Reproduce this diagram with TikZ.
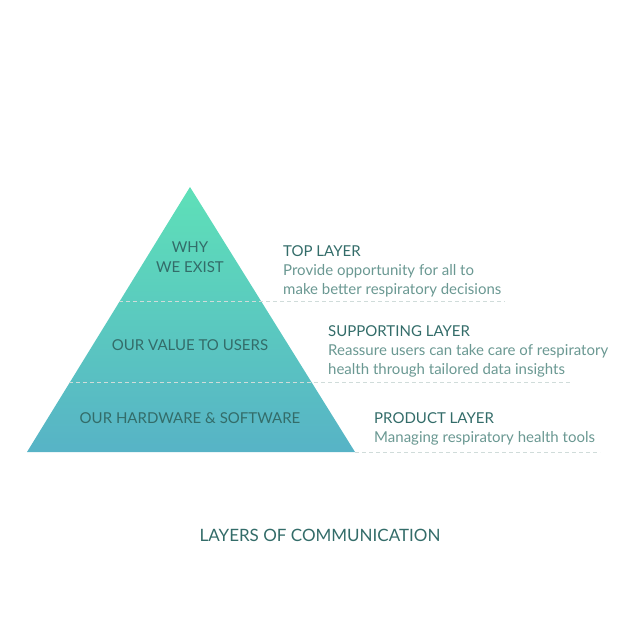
\documentclass[tikz,border=0pt]{standalone}
\usepackage{fontspec}
\setmainfont{Lato}
\usetikzlibrary{positioning,calc}
\definecolor{pyrtop}{HTML}{5EE0B8}
\definecolor{pyrbot}{HTML}{57B3C6}
\definecolor{inktext}{HTML}{336C69}
\definecolor{desctext}{HTML}{6A9892}
\definecolor{dashgray}{HTML}{D0DCDA}
\begin{document}
\begin{tikzpicture}[x=1pt, y=-1pt,
        inlabel/.style={
            % the text inside the pyramid
            text=inktext, font=\fontsize{15}{20}\selectfont, align=center, inner sep=0pt},
        head/.style={
            % layer title
            text=inktext, font=\fontsize{15}{19}\selectfont, anchor=base west, inner sep=0pt},
        desc/.style={
            % layer description
            text=desctext, font=\fontsize{15}{19}\selectfont, anchor=base west, inner sep=0pt},
        sep/.style={
            % the dashed rules
            draw=dashgray, line width=.8pt, dash pattern=on 4pt off 3pt}]
        \useasboundingbox (0,0) rectangle (640,640);

        % the pyramid
        \coordinate (apex) at (190,187);
        \coordinate (baseL) at (27,452);
        \coordinate (baseR) at (355,452);
        \shade [top color=pyrtop, bottom color=pyrbot] (apex) -- (baseL) -- (baseR) -- cycle;

        % dashed rules
        \coordinate (r1a) at (119,301.5);
        \coordinate (r1b) at (505,301.5);
        \coordinate (r2a) at (69,382);
        \coordinate (r2b) at (572,382);
        \coordinate (r3b) at (600,452);
        \draw [sep] (r1a) -- (r1b);
        \draw [sep] (r2a) -- (r2b);
        \draw [sep] (baseR) -- (r3b);

        % labels in the pyramid
        \node [inlabel] (why) at (190,257) {WHY\\WE EXIST};
        \node [inlabel] (value) at (190,345) {OUR VALUE TO USERS};
        \node [inlabel] (hard) at (190,418) {OUR HARDWARE \& SOFTWARE};

        % layer texts
        \node [head] (tophead) at (283,256) {TOP LAYER};
        \node [desc] (topdesc1) at ($(tophead.base west)+(0,19)$) {Provide opportunity for all to};
        \node [desc] (topdesc2) at ($(topdesc1.base west)+(0,19)$) {make better respiratory decisions};
        \node [head] (suphead) at (328,336) {SUPPORTING LAYER};
        \node [desc] (supdesc1) at ($(suphead.base west)+(0,19)$) {Reassure users can take care of respiratory};
        \node [desc] (supdesc2) at ($(supdesc1.base west)+(0,19)$) {health through tailored data insights};
        \node [head] (prodhead) at (374,423) {PRODUCT LAYER};
        \node [desc] (proddesc) at ($(prodhead.base west)+(0,19)$) {Managing respiratory health tools};

        \node [text=inktext, font=\fontsize{17}{20}\selectfont] (title) at (320,535) {LAYERS OF COMMUNICATION};
\end{tikzpicture}
\end{document}
